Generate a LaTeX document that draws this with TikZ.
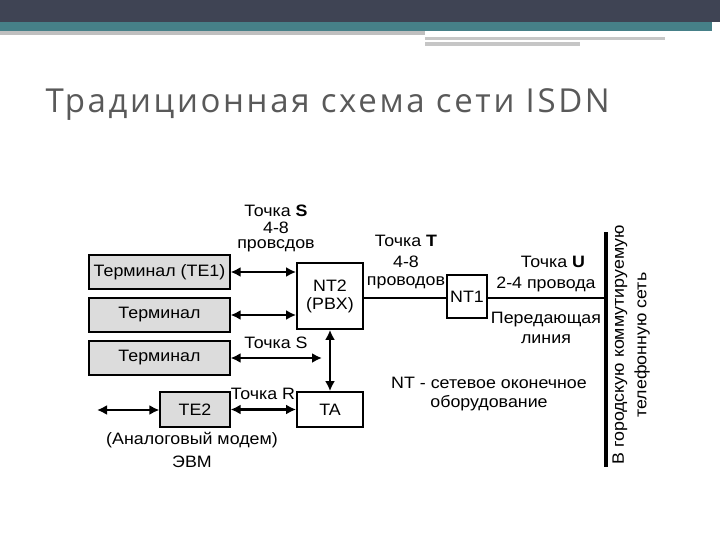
\documentclass[tikz,border=0pt]{standalone}
\usepackage{fontspec}
\setmainfont{Liberation Sans}
\newfontfamily\titlefont[LetterSpace=8]{Open Sans}
\newfontfamily\diagfont[FakeStretch=1.08]{Liberation Sans}
\usetikzlibrary{arrows.meta}
\definecolor{barDark}{HTML}{3F4454}
\definecolor{barTeal}{HTML}{468088}
\definecolor{boxGray}{HTML}{DCDCDC}
\tikzset{
  blk/.style={draw, line width=1.8pt, inner sep=0pt},
  term/.style={blk, line width=1.2pt, fill=boxGray},
  lnk/.style={line width=2.2pt, {Latex[length=10pt,width=10pt]}-{Latex[length=10pt,width=10pt]}},
  lbl/.style={font=\diagfont\fontsize{16.5}{18}\selectfont, inner sep=0pt, align=center}
}
\begin{document}
\begin{tikzpicture}[x=1pt, y=-1pt]
		\useasboundingbox (0,0) rectangle (720,540);
		% header bars
		\fill[barDark] (0,0) rectangle (720,22);
		\fill[barTeal] (0,22) rectangle (712,31);
		\fill[gray!50] (0,31) rectangle (425,35);
		\fill[gray!45] (425,37) rectangle (665,40);
		\fill[gray!45] (425,42) rectangle (580,46);
		\node[anchor=west, text=black!65, font=\titlefont\fontsize{33}{35}\selectfont] (title) at (42,105) {Традиционная схема сети ISDN};

		\node[term, minimum width=141pt, minimum height=34pt] (te1) at (159.5,272) {};
		\node[lbl] at (te1) {Терминал (TE1)};
		\node[term, minimum width=141pt, minimum height=34pt] (t2) at (159.5,315) {};
		\node[lbl] at (t2) {Терминал};
		\node[term, minimum width=141pt, minimum height=34pt] (t3) at (159.5,358) {};
		\node[lbl] at (t3) {Терминал};
		\node[term, minimum width=70pt, minimum height=35pt] (te2) at (195,409.5) {};
		\node[lbl] at (te2) {TE2};
		\node[blk, minimum width=66pt, minimum height=66pt] (nt2) at (330,296) {};
		\node[lbl] at (nt2) {NT2\\(PBX)};
		\node[blk, minimum width=66pt, minimum height=35pt] (ta) at (330,409.5) {};
		\node[lbl] at (ta) {TA};
		\node[blk, minimum width=40pt, minimum height=43pt] (nt1) at (467,296.5) {};
		\node[lbl] at (nt1) {NT1};

		\coordinate (bt) at (606,232);
		\coordinate (bb) at (606,467);
		\coordinate (bu) at (606,298);
		\coordinate (ext) at (97,410);
		\coordinate (s3) at (322,358);
		\draw[line width=4pt] (bt) -- (bb);
		\draw[line width=1.8pt] (nt2.east |- bu) -- (nt1.west |- bu);
		\draw[line width=1.8pt] (nt1.east |- bu) -- (bu);

		\draw[lnk] (te1.east) -- (nt2.west |- te1.east);
		\draw[lnk] (t2.east) -- (nt2.west |- t2.east);
		\draw[lnk] (t3.east) -- (s3);
		\draw[lnk] (nt2.south) -- (ta.north);
		\draw[lnk] (te2.east) -- (ta.west |- te2.east);
		\draw[lnk] (ext) -- (te2.west |- ext);

		\node[lbl] (ls) at (276,211) {Точка \textbf{S}};
		\node[lbl] (ls2) at (276,228) {4-8};
		\node[lbl] (ls3) at (276,246) {провсдов};
		\node[lbl] (lt) at (406,241) {Точка \textbf{T}};
		\node[lbl] (lt2) at (406,262) {4-8};
		\node[lbl] (lt3) at (406,283) {проводов};
		\node[lbl] (lu) at (553,262) {Точка \textbf{U}};
		\node[lbl] (lu2) at (546,284) {2-4 провода};
		\node[lbl] (lline) at (546,320) {Передающая};
		\node[lbl] (lline2) at (546,339) {линия};
		\node[lbl] (lnt) at (489,383) {NT - сетевое оконечное};
		\node[lbl] (lnt2) at (489,403) {оборудование};
		\node[lbl] (lsb) at (276,343) {Точка S};
		\node[lbl] (lr) at (263,394) {Точка R};
		\node[lbl] (lmod) at (192,440) {(Аналоговый модем)};
		\node[lbl] (lpc) at (192,462) {ЭВМ};
		\node[lbl, rotate=90] (lnet) at (620,345) {В городскую коммутируемую};
		\node[lbl, rotate=90] (lnet2) at (642,345) {телефонную сеть};
	\end{tikzpicture}
\end{document}
